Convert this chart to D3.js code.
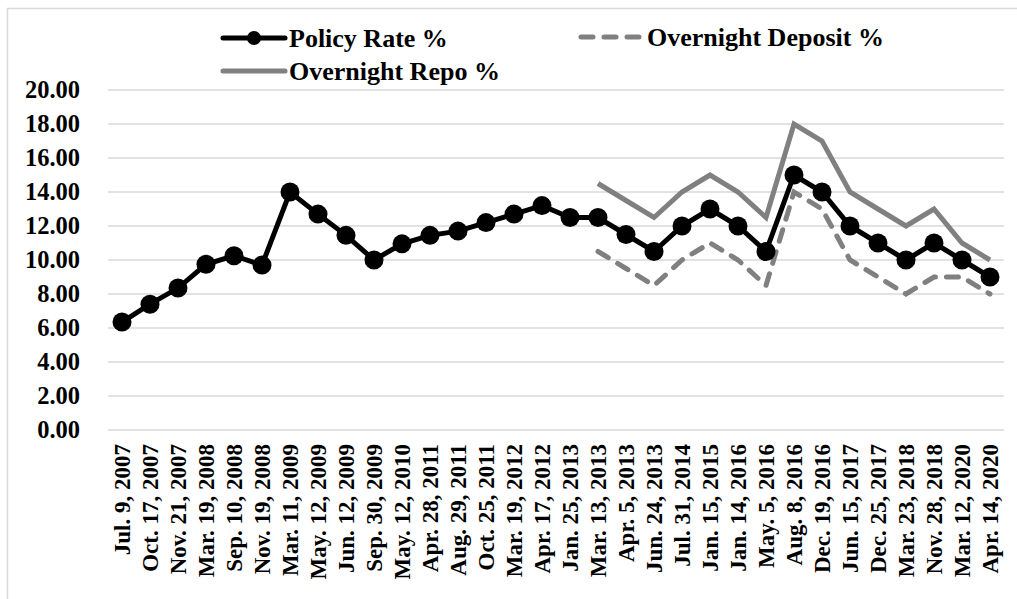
<!DOCTYPE html>
<html>
<head>
<meta charset="utf-8">
<script src="https://cdn.jsdelivr.net/npm/d3@7"></script>
<style>
  body { margin: 0; background: #fff; }
  text { font-family: "Liberation Serif", "Times New Roman", serif; font-weight: bold; fill: #000; }
</style>
</head>
<body>
<div id="chart"></div>
<script>
// dates of the rate decisions
var dates = ['Jul. 9, 2007', 'Oct. 17, 2007', 'Nov. 21, 2007', 'Mar. 19, 2008', 'Sep. 10, 2008',
  'Nov. 19, 2008', 'Mar. 11, 2009', 'May. 12, 2009', 'Jun. 12, 2009', 'Sep. 30, 2009',
  'May. 12, 2010', 'Apr. 28, 2011', 'Aug. 29, 2011', 'Oct. 25, 2011', 'Mar. 19, 2012',
  'Apr. 17, 2012', 'Jan. 25, 2013', 'Mar. 13, 2013', 'Apr. 5, 2013', 'Jun. 24, 2013',
  'Jul. 31, 2014', 'Jan. 15, 2015', 'Jan. 14, 2016', 'May. 5, 2016', 'Aug. 8, 2016',
  'Dec. 19, 2016', 'Jun. 15, 2017', 'Dec. 25, 2017', 'Mar. 23, 2018', 'Nov. 28, 2018',
  'Mar. 12, 2020', 'Apr. 14, 2020'];

var policy = [6.35, 7.4, 8.35, 9.75, 10.25, 9.7, 14, 12.7, 11.45, 10, 10.95, 11.45, 11.7, 12.2, 12.7, 13.2,
  12.5, 12.5, 11.5, 10.5, 12, 13, 12, 10.5, 15, 14, 12, 11, 10, 11, 10, 9];

// corridor only shown from Mar 2013 onwards
var deposit = [null, null, null, null, null, null, null, null, null, null, null, null, null, null, null, null,
  null, 10.5, 9.5, 8.5, 10, 11, 10, 8.5, 14, 13, 10, 9, 8, 9, 9, 8];

var repo = [null, null, null, null, null, null, null, null, null, null, null, null, null, null, null, null,
  null, 14.5, 13.5, 12.5, 14, 15, 14, 12.5, 18, 17, 14, 13, 12, 13, 11, 10];

var yTicks = [0, 2, 4, 6, 8, 10, 12, 14, 16, 18, 20];

var W = 1017, H = 599;
var plotL = 108, plotR = 1004, plotT = 90, plotB = 430;

var svg = d3.select('#chart').append('svg')
  .attr('width', W)
  .attr('height', H);

// outer frame
svg.append('rect')
  .attr('x', 7.5).attr('y', 8.5)
  .attr('width', 1020).attr('height', 600)
  .attr('fill', 'none')
  .attr('stroke', '#d9d9d9')
  .attr('stroke-width', 1.5);

var x = d3.scaleBand()
  .domain(dates)
  .range([plotL, plotR]);

var y = d3.scaleLinear()
  .domain([0, 20])
  .range([plotB, plotT]);

var cx = function(d, i) { return x(dates[i]) + x.bandwidth() / 2; };

// gridlines
svg.append('g')
  .selectAll('line')
  .data(yTicks)
  .enter().append('line')
  .attr('x1', plotL).attr('x2', plotR)
  .attr('y1', (d) => y(d)).attr('y2', (d) => y(d))
  .attr('stroke', '#d9d9d9')
  .attr('stroke-width', 1.5);

// y axis labels
var yAxis = svg.append('g')
  .attr('transform', 'translate(' + plotL + ',0)')
  .call(d3.axisLeft(y).tickValues(yTicks).tickSize(0).tickPadding(28).tickFormat(d3.format('.2f')));
yAxis.select('.domain').remove();
yAxis.selectAll('text')
  .attr('font-size', 24.5)
  .attr('font-family', '"Liberation Serif", serif')
  .attr('font-weight', 'bold')
  .attr('fill', '#000');

// x axis labels, rotated
var xAxis = svg.append('g')
  .attr('transform', 'translate(0,' + plotB + ')')
  .call(d3.axisBottom(x).tickSize(0).tickPadding(0));
xAxis.select('.domain').remove();
xAxis.selectAll('text')
  .attr('font-size', 23)
  .attr('font-family', '"Liberation Serif", serif')
  .attr('font-weight', 'bold')
  .attr('fill', '#000')
  .attr('text-anchor', 'end')
  .attr('transform', 'rotate(-90)')
  .attr('x', -14)
  .attr('y', 0)
  .attr('dy', '0.35em');

var line = d3.line()
  .defined((d) => d != null)
  .x(cx)
  .y((d) => y(d));

svg.append('path')
  .datum(repo)
  .attr('d', line)
  .attr('fill', 'none')
  .attr('stroke', '#808080')
  .attr('stroke-width', 5);

svg.append('path')
  .datum(deposit)
  .attr('d', line)
  .attr('fill', 'none')
  .attr('stroke', '#808080')
  .attr('stroke-width', 5)
  .attr('stroke-linecap', 'round')
  .attr('stroke-dasharray', '12,11');

svg.append('path')
  .datum(policy)
  .attr('d', line)
  .attr('fill', 'none')
  .attr('stroke', '#000')
  .attr('stroke-width', 5);

svg.append('g')
  .selectAll('circle')
  .data(policy)
  .enter().append('circle')
  .attr('cx', cx)
  .attr('cy', (d) => y(d))
  .attr('r', 9.5)
  .attr('fill', '#000');

// legend
var legend = [
  {name: 'Policy Rate %', x: 223, y: 38, color: '#000', dash: null, marker: true},
  {name: 'Overnight Deposit %', x: 581, y: 37, color: '#808080', dash: '12,11', marker: false},
  {name: 'Overnight Repo %', x: 223, y: 71, color: '#808080', dash: null, marker: false}
];

var lg = svg.append('g')
  .selectAll('g')
  .data(legend)
  .enter().append('g')
  .attr('transform', (d) => 'translate(' + d.x + ',' + d.y + ')');

lg.append('line')
  .attr('x1', 0).attr('x2', 62)
  .attr('stroke', (d) => d.color)
  .attr('stroke-width', 5)
  .attr('stroke-linecap', 'round')
  .attr('stroke-dasharray', (d) => d.dash);

lg.filter((d) => d.marker).append('circle')
  .attr('cx', 31)
  .attr('r', 7)
  .attr('fill', '#000');

lg.append('text')
  .attr('x', 66)
  .attr('dy', '0.35em')
  .attr('font-size', 26)
  .text((d) => d.name);
</script>
</body>
</html>
